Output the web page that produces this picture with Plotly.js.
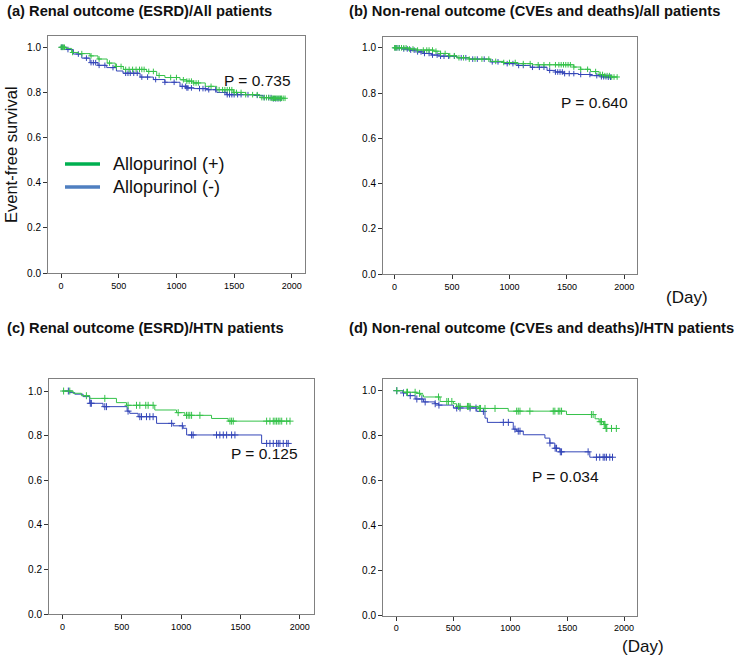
<!DOCTYPE html>
<html><head><meta charset="utf-8">
<script src="https://cdn.plot.ly/plotly-3.0.1.min.js"></script>
<style>html,body{margin:0;padding:0;background:#fff}#chart{width:740px;height:656px}</style>
</head><body><div id="chart"></div>
<script>
// ---------- labels ----------
const seriesNames = ['Allopurinol (+)', 'Allopurinol (-)'];
const panelTitles = [
  '(a) Renal outcome (ESRD)/All patients',
  '(b) Non-renal outcome (CVEs and deaths)/all patients',
  '(c) Renal outcome (ESRD)/HTN patients',
  '(d) Non-renal outcome (CVEs and deaths)/HTN patients'
];
const pValues = ['P = 0.735', 'P = 0.640', 'P = 0.125', 'P = 0.034'];
const yTitle = 'Event-free survival';
const dayLabel = '(Day)';
const xTicks = [0, 500, 1000, 1500, 2000];
const yTicks = [0, 0.2, 0.4, 0.6, 0.8, 1.0];

// ---------- (a) renal / all ----------
const aPlusDays = [0, 40, 92, 150, 251, 320, 400, 470, 540, 742, 829, 900, 1031, 1089, 1147, 1250, 1349, 1493, 1600, 1724, 1811];
const aPlusSurv = [1.0, 0.995, 0.977, 0.972, 0.962, 0.948, 0.93, 0.915, 0.902, 0.893, 0.875, 0.866, 0.856, 0.85, 0.842, 0.827, 0.812, 0.80, 0.79, 0.777, 0.774];
const aPlusEnd = 1941;
const aPlusCensor = [0, 10, 20, 30, 100, 180, 260, 330, 420, 480, 520, 560, 590, 620, 650, 680, 700, 720, 760, 800, 850, 950, 1000, 1060, 1090, 1110, 1130, 1150, 1170, 1190, 1300, 1370, 1400, 1420, 1440, 1460, 1480, 1500, 1520, 1560, 1600, 1660, 1700, 1740, 1760, 1780, 1800, 1820, 1830, 1840, 1850, 1860, 1870, 1880, 1890, 1900, 1910, 1925, 1941];
const aMinusDays = [0, 50, 107, 180, 251, 320, 396, 480, 537, 685, 800, 900, 1031, 1090, 1150, 1262, 1350, 1436, 1667, 1750, 1840];
const aMinusSurv = [1.0, 0.99, 0.97, 0.952, 0.932, 0.92, 0.91, 0.895, 0.885, 0.868, 0.857, 0.845, 0.827, 0.82, 0.817, 0.812, 0.80, 0.79, 0.787, 0.777, 0.772];
const aMinusEnd = 1900;
const aMinusCensor = [5, 15, 60, 150, 220, 260, 280, 300, 330, 380, 450, 560, 580, 600, 630, 660, 700, 750, 820, 900, 980, 1050, 1080, 1090, 1100, 1130, 1200, 1230, 1250, 1280, 1340, 1420, 1440, 1460, 1480, 1500, 1530, 1560, 1620, 1700, 1760, 1800, 1820, 1840, 1860, 1880, 1900];

// ---------- (b) non-renal / all ----------
const bPlusDays = [0, 120, 200, 340, 400, 470, 543, 650, 834, 950, 1066, 1200, 1560, 1620, 1705, 1780, 1821, 1880];
const bPlusSurv = [1.0, 0.995, 0.99, 0.985, 0.975, 0.965, 0.956, 0.95, 0.94, 0.935, 0.93, 0.925, 0.915, 0.905, 0.895, 0.882, 0.877, 0.871];
const bPlusEnd = 1937;
const bPlusCensor = [0, 10, 20, 40, 60, 80, 100, 130, 160, 200, 250, 280, 300, 330, 360, 400, 440, 480, 520, 560, 600, 650, 700, 760, 820, 880, 950, 1000, 1050, 1120, 1180, 1250, 1300, 1350, 1400, 1430, 1450, 1470, 1490, 1510, 1530, 1560, 1620, 1680, 1750, 1790, 1810, 1830, 1850, 1870, 1890, 1910, 1937];
const bMinusDays = [0, 60, 137, 200, 253, 320, 398, 543, 650, 834, 950, 1066, 1182, 1327, 1400, 1472, 1600, 1705, 1800, 1850];
const bMinusSurv = [1.0, 0.995, 0.99, 0.982, 0.975, 0.968, 0.963, 0.956, 0.95, 0.938, 0.93, 0.922, 0.914, 0.90, 0.893, 0.886, 0.882, 0.877, 0.872, 0.87];
const bMinusEnd = 1879;
const bMinusCensor = [5, 20, 40, 80, 110, 140, 170, 200, 230, 260, 300, 330, 370, 400, 430, 470, 520, 580, 620, 680, 720, 780, 850, 900, 980, 1030, 1080, 1120, 1200, 1260, 1300, 1350, 1400, 1420, 1440, 1460, 1480, 1520, 1560, 1620, 1700, 1760, 1800, 1820, 1840, 1860, 1879];

// ---------- (c) renal / HTN ----------
const cPlusDays = [0, 89, 160, 230, 455, 540, 778, 961, 1031, 1256, 1396];
const cPlusSurv = [1.0, 0.99, 0.979, 0.967, 0.948, 0.936, 0.915, 0.903, 0.891, 0.877, 0.865];
const cPlusEnd = 1917;
const cPlusCensor = [10, 62, 202, 357, 553, 624, 652, 702, 722, 764, 975, 1045, 1059, 1073, 1088, 1158, 1411, 1425, 1439, 1720, 1748, 1776, 1790, 1804, 1818, 1832, 1847, 1889, 1917];
const cMinusDays = [0, 60, 104, 174, 230, 342, 545, 567, 638, 793, 933, 1017, 1046, 1678];
const cMinusSurv = [1.0, 0.993, 0.986, 0.975, 0.945, 0.93, 0.91, 0.90, 0.885, 0.855, 0.844, 0.833, 0.803, 0.765];
const cMinusEnd = 1902;
const cMinusCensor = [50, 235, 244, 357, 371, 553, 652, 666, 708, 736, 764, 920, 1010, 1088, 1101, 1298, 1326, 1355, 1383, 1425, 1453, 1720, 1748, 1776, 1804, 1818, 1832, 1860, 1889, 1902];

// ---------- (d) non-renal / HTN ----------
const dPlusDays = [0, 64, 181, 212, 239, 385, 502, 530, 721, 983, 1494, 1745, 1780, 1820, 1838];
const dPlusSurv = [1.0, 0.993, 0.988, 0.981, 0.972, 0.952, 0.942, 0.93, 0.921, 0.909, 0.894, 0.875, 0.862, 0.85, 0.832];
const dPlusEnd = 1932;
const dPlusCensor = [5, 93, 99, 166, 205, 371, 444, 458, 488, 546, 560, 625, 636, 648, 730, 740, 779, 867, 1057, 1071, 1086, 1173, 1378, 1392, 1422, 1436, 1451, 1713, 1728, 1790, 1801, 1825, 1832, 1842, 1848, 1889, 1932];
const dMinusDays = [0, 58, 94, 166, 239, 341, 371, 502, 707, 779, 800, 1027, 1057, 1115, 1305, 1348, 1392, 1436, 1699];
const dMinusSurv = [1.0, 0.99, 0.978, 0.963, 0.95, 0.942, 0.936, 0.923, 0.908, 0.878, 0.859, 0.829, 0.82, 0.804, 0.789, 0.767, 0.744, 0.728, 0.704];
const dMinusEnd = 1898;
const dMinusCensor = [5, 64, 123, 181, 225, 254, 342, 375, 531, 560, 648, 700, 765, 940, 984, 1042, 1071, 1086, 1349, 1395, 1407, 1440, 1451, 1684, 1757, 1786, 1816, 1830, 1845, 1874, 1898];

// ---------- styling ----------
const green = '#35c24a';
const blue = '#3446b8';
const legendGreen = '#00b050';
const legendBlue = '#4f7fc0';
const FONT = 'Liberation Sans, Arial, Helvetica, sans-serif';
const W = 740, H = 656;

function stepXY(days, surv, end) {
  return {x: days.concat([end]), y: surv.concat([surv[surv.length - 1]])};
}
function survAt(days, surv, t) {
  let v = surv[0];
  for (let i = 0; i < days.length; i++) { if (days[i] <= t) v = surv[i]; }
  return v;
}

const panels = [
  {ax: '', ms: 4, plus: [aPlusDays, aPlusSurv, aPlusEnd, aPlusCensor], minus: [aMinusDays, aMinusSurv, aMinusEnd, aMinusCensor]},
  {ax: '2', ms: 4, plus: [bPlusDays, bPlusSurv, bPlusEnd, bPlusCensor], minus: [bMinusDays, bMinusSurv, bMinusEnd, bMinusCensor]},
  {ax: '3', ms: 5, plus: [cPlusDays, cPlusSurv, cPlusEnd, cPlusCensor], minus: [cMinusDays, cMinusSurv, cMinusEnd, cMinusCensor]},
  {ax: '4', ms: 5, plus: [dPlusDays, dPlusSurv, dPlusEnd, dPlusCensor], minus: [dMinusDays, dMinusSurv, dMinusEnd, dMinusCensor]}
];

const traces = [];
panels.forEach(p => {
  [['minus', blue, seriesNames[1]], ['plus', green, seriesNames[0]]].forEach(([k, col, nm]) => {
    const [days, surv, end, cens] = p[k];
    const s = stepXY(days, surv, end);
    traces.push({
      type: 'scatter', mode: 'lines', x: s.x, y: s.y, name: nm,
      xaxis: 'x' + p.ax, yaxis: 'y' + p.ax,
      line: {shape: 'hv', color: col, width: 1},
      showlegend: false, hoverinfo: 'skip'
    });
    traces.push({
      type: 'scatter', mode: 'markers', x: cens, y: cens.map(t => survAt(days, surv, t)), name: nm + ' censored',
      xaxis: 'x' + p.ax, yaxis: 'y' + p.ax,
      marker: {symbol: 'cross-thin-open', size: p.ms, color: col, line: {color: col, width: 1}},
      showlegend: false, hoverinfo: 'skip'
    });
  });
});

function px(x) { return x / W; }
function py(y) { return 1 - y / H; }

function xa(l, r, range, anchor) {
  return {domain: [px(l), px(r)], range: range, anchor: anchor,
    tickvals: xTicks, ticks: 'outside', ticklen: 4, tickwidth: 1, tickcolor: '#333',
    showline: true, mirror: true, linecolor: '#808080', linewidth: 1,
    showgrid: false, zeroline: false, tickfont: {size: 9, color: '#000', family: FONT}};
}
function ya(t, b, range, anchor) {
  return {domain: [py(b), py(t)], range: range, anchor: anchor,
    tickvals: yTicks, tickformat: '.1f', ticks: 'outside', ticklen: 4, tickwidth: 1, tickcolor: '#333',
    showline: true, mirror: true, linecolor: '#808080', linewidth: 1,
    showgrid: false, zeroline: false, tickfont: {size: 10, color: '#000', family: FONT}};
}

const ann = [];
function txt(text, x, y, size, opts) {
  ann.push(Object.assign({text: text, xref: 'paper', yref: 'paper', x: px(x), y: py(y),
    showarrow: false, xanchor: 'left', yanchor: 'middle',
    font: {family: FONT, size: size, color: '#111'}}, opts || {}));
}
txt('<b>' + panelTitles[0] + '</b>', 5, 11, 14.7);
txt('<b>' + panelTitles[1] + '</b>', 347, 11, 14.7);
txt('<b>' + panelTitles[2] + '</b>', 5, 328, 14.7);
txt('<b>' + panelTitles[3] + '</b>', 347, 328, 14.7);
txt(pValues[0], 257, 80, 15.5, {xanchor: 'center'});
txt(pValues[1], 594, 103, 15.5, {xanchor: 'center'});
txt(pValues[2], 264, 454, 15.5, {xanchor: 'center'});
txt(pValues[3], 565, 476, 15.5, {xanchor: 'center'});
txt(dayLabel, 687, 297, 17, {xanchor: 'center'});
txt(dayLabel, 643, 646, 17, {xanchor: 'center'});
txt(yTitle, 11, 155, 16.5, {xanchor: 'center', textangle: -90});
// legend (drawn inside panel a)
txt(seriesNames[0], 111, 164, 18);
txt(seriesNames[1], 111, 187, 18);
const shapes = [
  {type: 'line', xref: 'paper', yref: 'paper', x0: px(65), x1: px(100), y0: py(164), y1: py(164), line: {color: legendGreen, width: 3.5}},
  {type: 'line', xref: 'paper', yref: 'paper', x0: px(65), x1: px(100), y0: py(187), y1: py(187), line: {color: legendBlue, width: 3.5}}
];

const layout = {
  width: W, height: H,
  margin: {l: 0, r: 0, t: 0, b: 0},
  paper_bgcolor: '#fff', plot_bgcolor: '#fff',
  font: {family: FONT},
  xaxis: xa(48, 305, [-113, 2114], 'y'),
  yaxis: ya(36, 273, [0, 1.05], 'x'),
  xaxis2: xa(383, 637, [-101, 2110], 'y2'),
  yaxis2: ya(36.5, 274, [0, 1.05], 'x2'),
  xaxis3: xa(49, 314, [-113, 2119], 'y3'),
  yaxis3: ya(379, 614, [0, 1.054], 'x3'),
  xaxis4: xa(383, 637, [-116, 2113], 'y4'),
  yaxis4: ya(379, 615.5, [0, 1.052], 'x4'),
  showlegend: false,
  annotations: ann,
  shapes: shapes
};

Plotly.newPlot('chart', traces, layout, {staticPlot: true, displayModeBar: false});
</script></body></html>
